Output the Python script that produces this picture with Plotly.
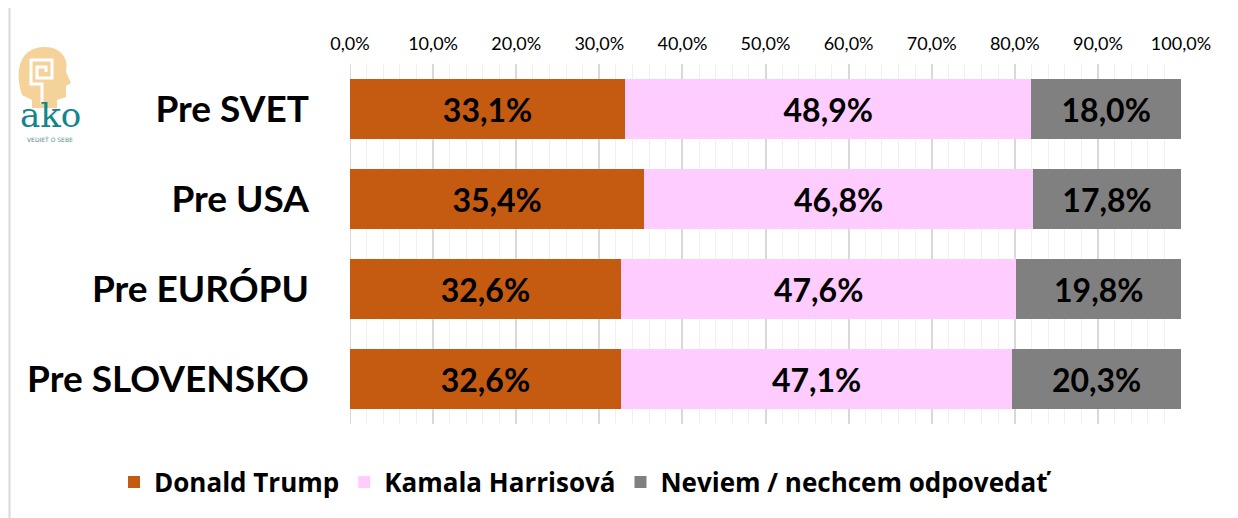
import plotly.graph_objects as go

categories = ["Pre SVET", "Pre USA", "Pre EURÓPU", "Pre SLOVENSKO"]
series_names = ["Donald Trump", "Kamala Harrisová", "Neviem / nechcem odpovedať"]
trump = [0.331, 0.354, 0.326, 0.326]
harris = [0.489, 0.468, 0.476, 0.471]
neviem = [0.180, 0.178, 0.198, 0.203]
colors = ["#C55A11", "#FFCCFF", "#808080"]
tick_vals = [0.0, 0.1, 0.2, 0.3, 0.4, 0.5, 0.6, 0.7, 0.8, 0.9, 1.0]

W, H = 1238, 518
OFF = 8  # page body margin
L, T = 350 - OFF, 64 - OFF
R = (W + OFF) - 1181
B = (H + OFF) - 424
PW, PH = W - L - R, H - T - B


def px(x):
    return (x - OFF - L) / PW


def py(y):
    return 1 - (y - OFF - T) / PH


FONT = "Lato"

fig = go.Figure()
for name, vals, col in zip(series_names, [trump, harris, neviem], colors):
    fig.add_trace(go.Bar(
        name=name, y=categories, x=vals, orientation="h",
        marker=dict(color=col, line=dict(width=0)),
        texttemplate="%{x:.1%}", textposition="inside", insidetextanchor="middle",
        textfont=dict(family=FONT, size=32, color="black", weight="bold"),
        constraintext="none",
    ))

shapes = []
shapes.append(dict(type="rect", xref="paper", yref="paper",
                   x0=px(9.5), x1=px(1260), y0=py(6), y1=py(540),
                   line=dict(color="#D9D9D9", width=2), fillcolor="rgba(0,0,0,0)", layer="below"))
head = "M {},{} C {},{} {},{} {},{} C {},{} {},{} {},{} L {},{} L {},{} L {},{} L {},{} L {},{} L {},{} L {},{} Z"
pts = [(22, 95), (14, 70), (20, 47), (45, 47), (62, 47), (69, 60), (66, 72), (71, 83), (66, 86),
       (66, 97), (57, 100), (57, 108), (32, 108), (32, 100)]
path = head.format(*[v for p in pts for v in (px(p[0]), py(p[1]))])
shapes.append(dict(type="path", xref="paper", yref="paper", path=path,
                   fillcolor="#F6D29B", line=dict(width=0)))
spiral = [(42, 104), (42, 84), (31, 84), (31, 60), (52, 60), (52, 78), (37, 78), (37, 67), (46, 67), (46, 72)]
sp = "M " + " L ".join(f"{px(a)},{py(b)}" for a, b in spiral)
shapes.append(dict(type="path", xref="paper", yref="paper", path=sp,
                   line=dict(color="white", width=3)))

annotations = [
    dict(text="ako", xref="paper", yref="paper", x=px(50), y=py(115), showarrow=False,
         font=dict(family="DejaVu Serif", size=34, color="#14858A"), xanchor="center", yanchor="middle"),
    dict(text="VEDIEŤ O SEBE", xref="paper", yref="paper", x=px(50), y=py(139), showarrow=False,
         font=dict(family="DejaVu Sans", size=6, color="#5A8E90"), xanchor="center", yanchor="middle"),
]

fig.update_layout(
    width=W, height=H,
    margin=dict(l=L, r=R, t=T, b=B),
    barmode="stack", bargap=1/3,
    paper_bgcolor="white", plot_bgcolor="white",
    separators=", ",
    font=dict(family=FONT, color="black"),
    shapes=shapes, annotations=annotations,
    legend=dict(orientation="h", xref="paper", x=px(114), xanchor="left",
                yref="paper", y=py(482), yanchor="middle",
                font=dict(family="Open Sans", size=26, color="black", weight="bold"),
                traceorder="normal", itemwidth=30),
    xaxis=dict(side="top", range=[0, 1], tickvals=tick_vals, tickformat=".1%",
               showgrid=True, gridcolor="#D9D9D9", gridwidth=1.5,
               minor=dict(dtick=0.02, showgrid=True, gridcolor="#F0F0F0", gridwidth=1),
               zeroline=False, showline=False, ticks="",
               tickfont=dict(family=FONT, size=18, color="black"),
               ticklabelstandoff=9, fixedrange=True),
    yaxis=dict(categoryorder="array", categoryarray=categories, autorange="reversed",
               showgrid=False, zeroline=False, showline=False, ticks="",
               tickfont=dict(family=FONT, size=37, color="black", weight="bold"),
               ticklabelstandoff=40),
)
fig.add_vline(x=0, line=dict(color="#D9D9D9", width=2), layer="below")

fig.write_html("out.html")
